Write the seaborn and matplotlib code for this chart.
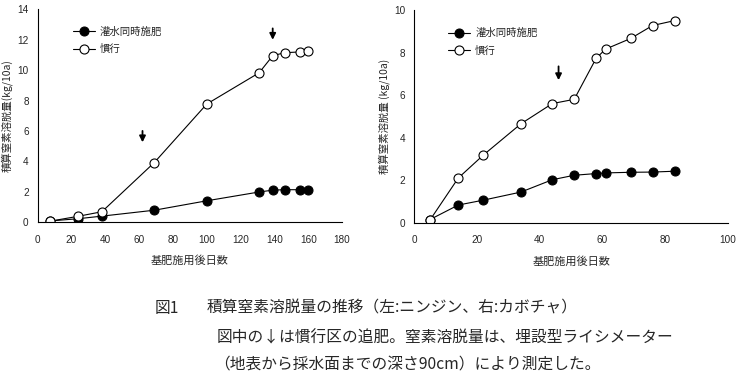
import numpy as np
import pandas as pd
import matplotlib
matplotlib.use("Agg")
import matplotlib.pyplot as plt
import seaborn as sns

# left: ニンジン
days_l = [7, 24, 38, 69, 100, 131, 139, 146, 155, 160]
fert_l = [0.07, 0.22, 0.39, 0.78, 1.40, 1.98, 2.10, 2.13, 2.13, 2.13]
conv_l = [0.05, 0.38, 0.68, 3.92, 7.77, 9.83, 10.95, 11.15, 11.2, 11.25]
arrows_l = [62, 139]

# right: カボチャ
days_r = [5, 14, 22, 34, 44, 51, 58, 61, 69, 76, 83]
fert_r = [0.15, 0.83, 1.06, 1.44, 2.02, 2.23, 2.31, 2.34, 2.37, 2.38, 2.42]
conv_r = [0.13, 2.1, 3.18, 4.65, 5.6, 5.8, 7.73, 8.16, 8.66, 9.27, 9.5]
arrows_r = [46]

names = ["灌水同時施肥", "慣行"]

sns.set_style("white")
plt.rcParams['font.family'] = ['Noto Sans CJK JP', 'DejaVu Sans']

fig = plt.figure(figsize=(7.4, 3.77), dpi=100)
ax1 = fig.add_axes([0.0509, 0.411, 0.4113, 0.564])
ax2 = fig.add_axes([0.560, 0.4093, 0.4235, 0.5642])


def draw(ax, days, fert, conv, arrows, ymax, xmax, arrow_top, arrow_len, ylab, leg_x, leg_y):
    df = pd.DataFrame({"day": days, "fert": fert, "conv": conv})
    sns.lineplot(data=df, x="day", y="fert", ax=ax, color="black", lw=0.8,
                 marker="o", markersize=6.5, markerfacecolor="black",
                 markeredgecolor="black", label=names[0], sort=False)
    sns.lineplot(data=df, x="day", y="conv", ax=ax, color="black", lw=0.8,
                 marker="o", markersize=6.5, markerfacecolor="white",
                 markeredgecolor="black", markeredgewidth=0.8,
                 label=names[1], sort=False)
    for xa, top in zip(arrows, arrow_top):
        ax.annotate("", xy=(xa, top - arrow_len), xytext=(xa, top),
                    arrowprops=dict(arrowstyle="-|>", color="black", lw=1.3,
                                    mutation_scale=9, shrinkA=0, shrinkB=0))
    ax.set_xlim(0, xmax)
    ax.set_ylim(0, ymax)
    ax.set_xticks(np.arange(0, xmax + 1, 20))
    ax.set_yticks(np.arange(0, ymax + 1, 2))
    for s in ["top", "right"]:
        ax.spines[s].set_visible(False)
    for s in ["left", "bottom"]:
        ax.spines[s].set_color("black")
        ax.spines[s].set_linewidth(0.8)
    ax.tick_params(axis="both", direction="in", length=3.5, width=0.8,
                   color="black", labelsize=7.2)
    ax.tick_params(axis="x", pad=9)
    ax.tick_params(axis="y", pad=6.5)
    for lab in ax.get_xticklabels() + ax.get_yticklabels():
        lab.set_family("Liberation Sans")
    ax.set_ylabel(ylab, fontsize=7.5, labelpad=3)
    ax.set_xlabel("基肥施用後日数", fontsize=8, labelpad=8)
    ax.legend(loc="upper left", bbox_to_anchor=(leg_x, leg_y), frameon=False,
              fontsize=7.5, handlelength=2.1, handletextpad=0.5,
              labelspacing=0.75, borderpad=0, borderaxespad=0)


draw(ax1, days_l, fert_l, conv_l, arrows_l, 14, 180, [6.0, 12.75], 0.75,
     "積算窒素溶脱量(kg/10a)", 0.116, 0.92)
draw(ax2, days_r, fert_r, conv_r, arrows_r, 10, 100, [7.35], 0.65,
     "積算窒素溶脱量 (kg/10a)", 0.1075, 0.915)

cap = 11.3
fig.text(155 / 740, 1 - 308 / 377, "図1", fontsize=cap, va="center")
fig.text(207 / 740, 1 - 308 / 377, "積算窒素溶脱量の推移（左:ニンジン、右:カボチャ）",
         fontsize=cap, va="center")
fig.text(217 / 740, 1 - 338 / 377, "図中の↓は慣行区の追肥。窒素溶脱量は、埋設型ライシメーター",
         fontsize=cap, va="center")
fig.text(214 / 740, 1 - 365 / 377, "（地表から採水面までの深さ90cm）により測定した。",
         fontsize=cap, va="center")

fig.savefig("out.png", dpi=100)
